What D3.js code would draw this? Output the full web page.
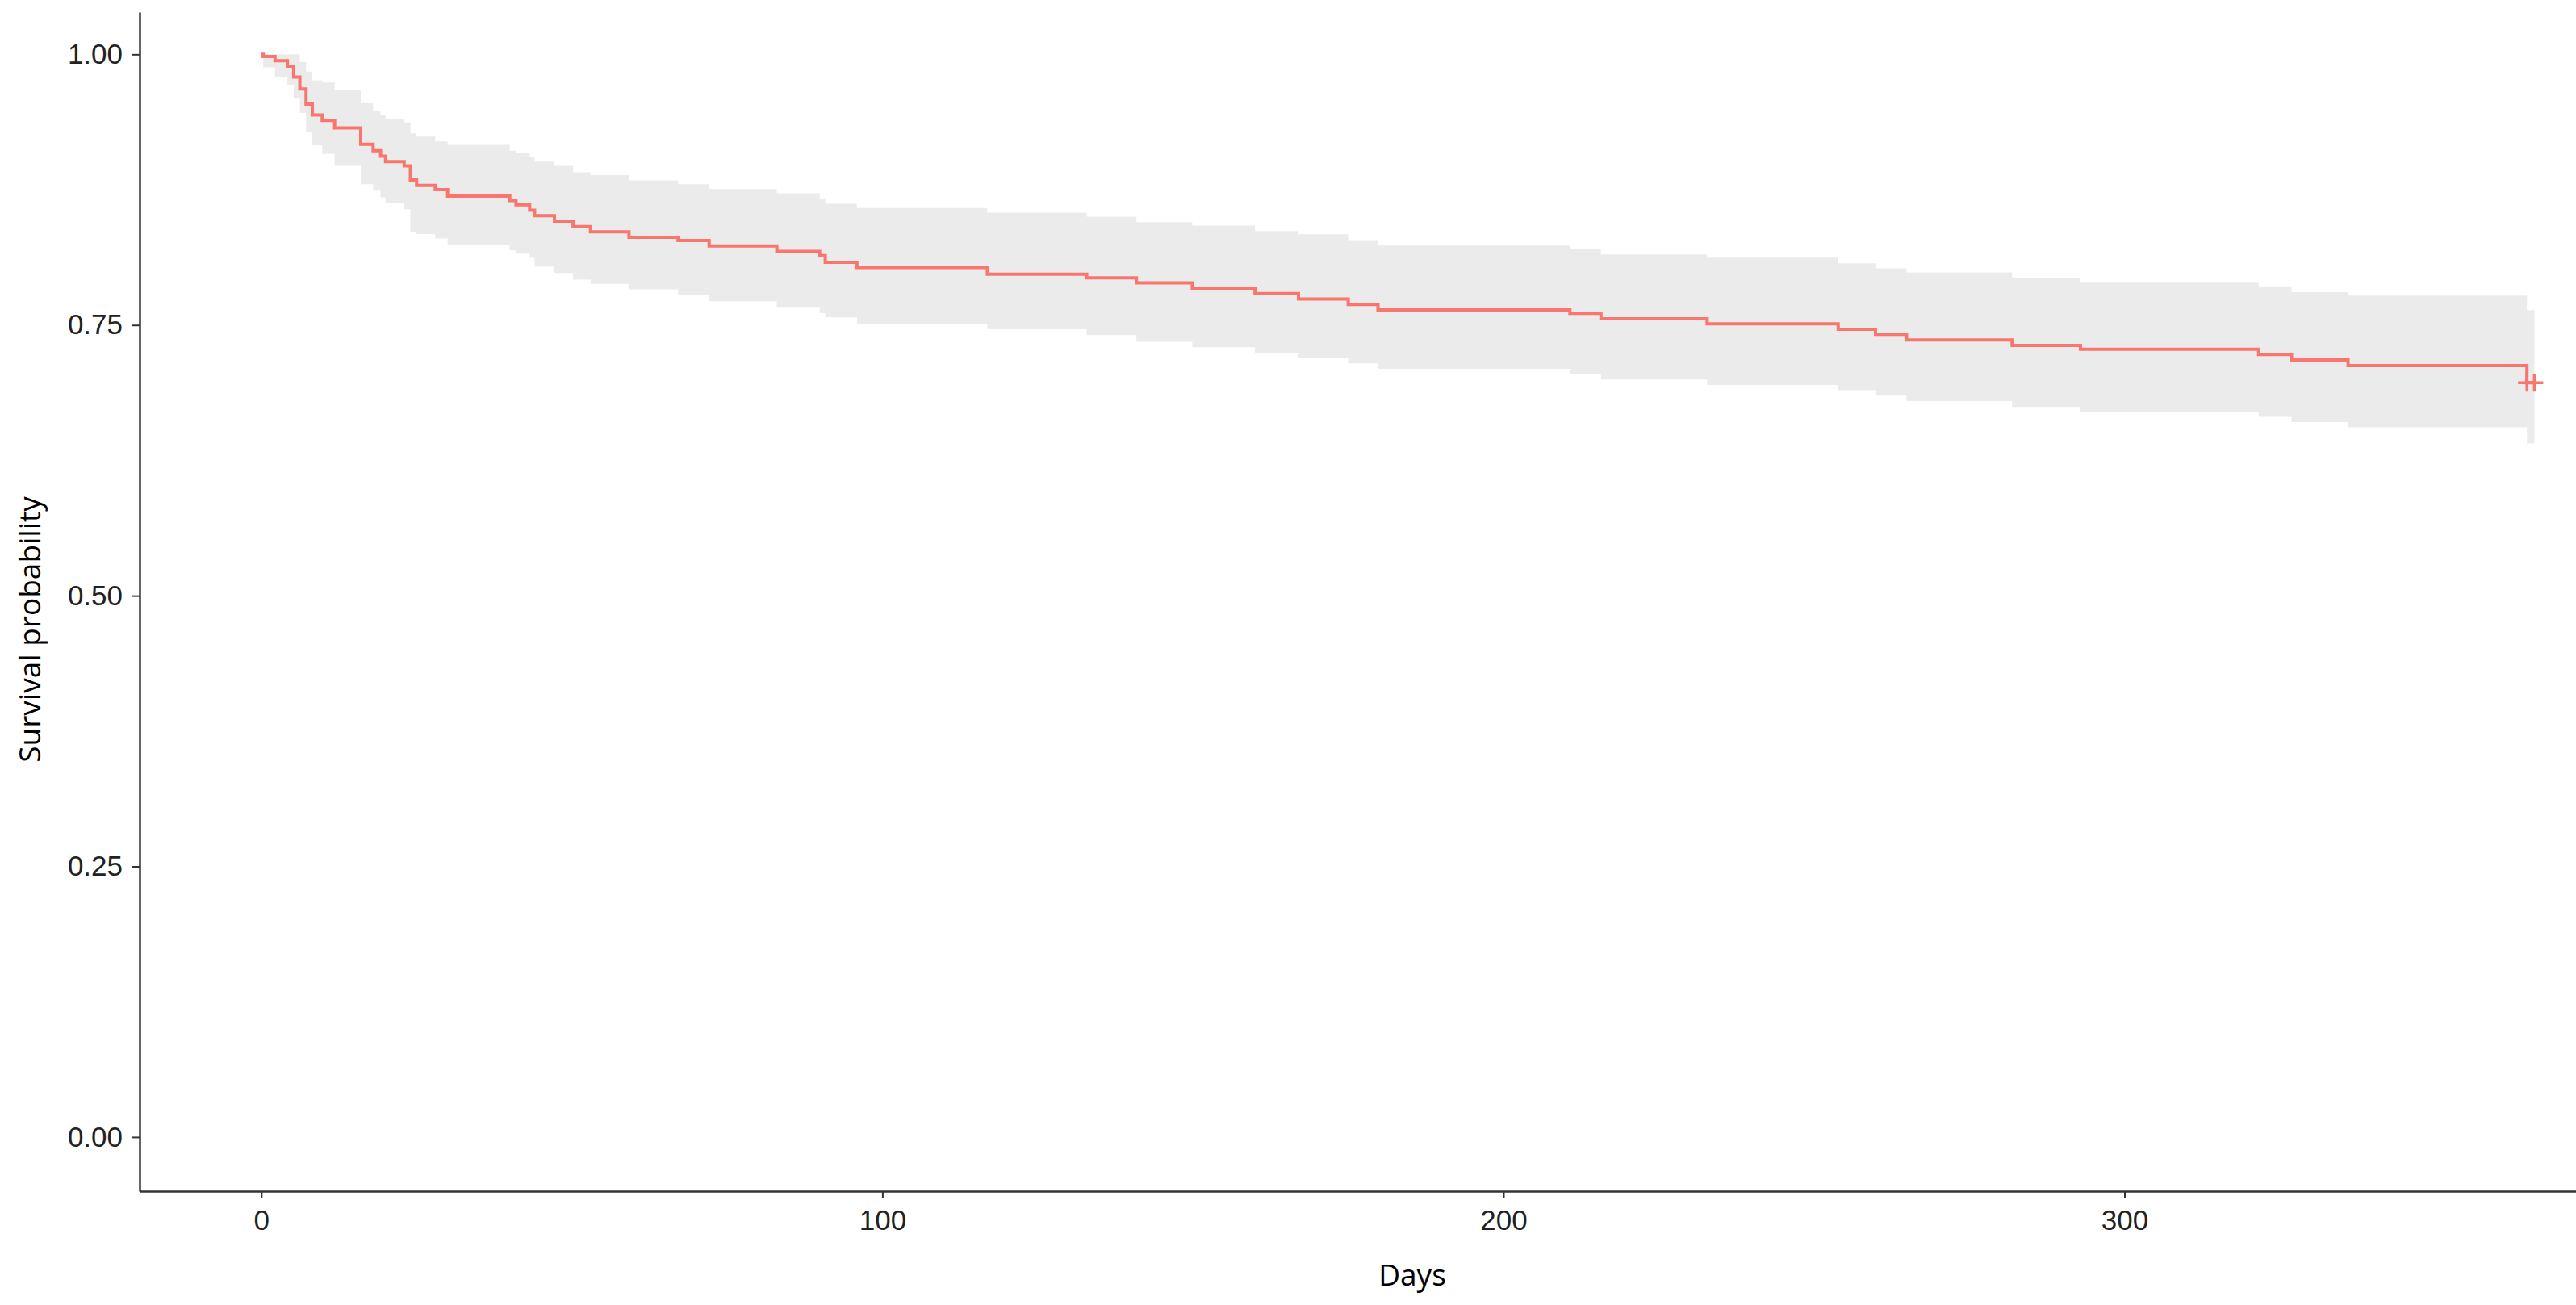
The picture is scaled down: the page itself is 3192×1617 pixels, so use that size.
<!DOCTYPE html>
<html>
<head>
<meta charset="utf-8">
<script src="https://cdn.jsdelivr.net/npm/d3@7"></script>
<style>
  html, body { margin: 0; padding: 0; background: #ffffff; }
  svg { display: block; }
</style>
</head>
<body>
<svg id="chart" width="3192" height="1617"></svg>
<script>
// ---- Data (Kaplan-Meier step points) ----
const times = [0, 0.3, 2.2, 4.2, 5.2, 6.2, 7.2, 8.2, 9.8, 11.8,
  16.0, 18.0, 19.2, 20.0, 23.0, 24.0, 25.0, 28.0, 30.0, 40.0,
  41.0, 43.2, 44.0, 47.2, 50.2, 53.0, 59.2, 67.1, 72.1, 83.0,
  89.9, 90.8, 95.9, 116.9, 132.9, 140.9, 149.9, 160.0, 167.0, 175.0,
  179.8, 210.7, 215.7, 232.8, 253.9, 259.9, 264.9, 281.9, 292.9, 321.6,
  326.9, 336.0, 364.8];
const survival = [1.000, 0.998, 0.994, 0.989, 0.979, 0.968, 0.954, 0.944, 0.939, 0.932,
  0.917, 0.911, 0.906, 0.901, 0.897, 0.884, 0.879, 0.875, 0.869, 0.865,
  0.861, 0.856, 0.851, 0.846, 0.841, 0.836, 0.831, 0.828, 0.823, 0.818,
  0.814, 0.808, 0.803, 0.797, 0.7936, 0.789, 0.784, 0.779, 0.774, 0.769,
  0.764, 0.7607, 0.7558, 0.7511, 0.7461, 0.7414, 0.7362, 0.7312, 0.7277, 0.7227,
  0.7178, 0.7126, 0.6967];
const upper = [1, 1, 1, 1, 1, 0.993, 0.984, 0.976, 0.974, 0.967,
  0.955, 0.948, 0.944, 0.940, 0.937, 0.927, 0.924, 0.9195, 0.9163, 0.911,
  0.909, 0.905, 0.901, 0.897, 0.891, 0.8885, 0.8835, 0.880, 0.8756, 0.8716,
  0.867, 0.862, 0.858, 0.8537, 0.850, 0.845, 0.8418, 0.8368, 0.8338, 0.8284,
  0.8234, 0.8202, 0.8152, 0.8122, 0.8070, 0.8023, 0.7986, 0.7936, 0.7891, 0.7858,
  0.7804, 0.7772, 0.7638];
const lower = [1, 0.988, 0.979, 0.972, 0.959, 0.946, 0.928, 0.916, 0.908, 0.897,
  0.880, 0.874, 0.868, 0.863, 0.857, 0.836, 0.834, 0.830, 0.824, 0.819,
  0.816, 0.812, 0.804, 0.798, 0.792, 0.788, 0.783, 0.778, 0.772, 0.766,
  0.761, 0.757, 0.751, 0.746, 0.7407, 0.7345, 0.7295, 0.7245, 0.7196, 0.7146,
  0.7096, 0.7047, 0.6997, 0.6947, 0.6898, 0.6848, 0.6798, 0.6744, 0.6699, 0.6652,
  0.6603, 0.6555, 0.6406];
const lastTime = 366;
const censorTimes = [364.8, 366];
const xTicks = [0, 100, 200, 300];
const yTicks = [0, 0.25, 0.5, 0.75, 1];
const xTitle = "Days";
const yTitle = "Survival probability";

// ---- Layout ----
const svg = d3.select("#chart");
const x = d3.scaleLinear().domain([-19.6, 372.7]).range([173, 3192]);
const y = d3.scaleLinear().domain([-0.05, 1.039]).range([1476, 15]);

const rows = times.map((t, i) => ({ t, s: survival[i], u: upper[i], l: lower[i] }));
const last = rows[rows.length - 1];
const rowsExt = rows.concat([{ t: lastTime, s: last.s, u: last.u, l: last.l }]);

// Confidence ribbon
const area = d3.area()
  .curve(d3.curveStepAfter)
  .x(d => x(d.t))
  .y0(d => y(d.l))
  .y1(d => y(d.u));
svg.append("path")
  .datum(rowsExt)
  .attr("d", area)
  .attr("fill", "#ebebeb")
  .attr("stroke", "none");

// Survival step curve
const line = d3.line()
  .curve(d3.curveStepAfter)
  .x(d => x(d.t))
  .y(d => y(d.s));
svg.append("path")
  .datum(rowsExt)
  .attr("d", line)
  .attr("fill", "none")
  .attr("stroke", "#F8766D")
  .attr("stroke-width", 4);

// Censor marks
const cg = svg.append("g").attr("stroke", "#F8766D").attr("stroke-width", 3.5);
censorTimes.forEach(t => {
  const cx = x(t), cy = y(last.s);
  cg.append("line").attr("x1", cx - 11).attr("x2", cx + 11).attr("y1", cy).attr("y2", cy);
  cg.append("line").attr("x1", cx).attr("x2", cx).attr("y1", cy - 11).attr("y2", cy + 11);
});

// Axes
const axisColor = "#333333";
const yAxis = svg.append("g")
  .attr("transform", `translate(${x(-19.6)},0)`)
  .call(d3.axisLeft(y).tickValues(yTicks).tickFormat(d3.format(".2f"))
    .tickSize(10).tickSizeOuter(0).tickPadding(11));
const xAxis = svg.append("g")
  .attr("transform", `translate(0,${y(-0.05)})`)
  .call(d3.axisBottom(x).tickValues(xTicks).tickFormat(d3.format("d"))
    .tickSize(9).tickSizeOuter(0).tickPadding(14));

[yAxis, xAxis].forEach(g => {
  g.select(".domain").attr("stroke", axisColor).attr("stroke-width", 2.5);
  g.selectAll(".tick line").attr("stroke", axisColor).attr("stroke-width", 2);
  g.selectAll(".tick text")
    .attr("fill", "#222")
    .style("font-family", "'Liberation Sans', Arial, sans-serif")
    .style("font-size", "35px");
});

// Titles
svg.append("text")
  .attr("x", 1750).attr("y", 1593)
  .attr("text-anchor", "middle")
  .style("font-family", "'Open Sans', 'Noto Sans', sans-serif")
  .style("font-size", "37px")
  .attr("fill", "#000")
  .text(xTitle);
svg.append("text")
  .attr("transform", "translate(50,780) rotate(-90)")
  .attr("text-anchor", "middle")
  .style("font-family", "'Open Sans', 'Noto Sans', sans-serif")
  .style("font-size", "37px")
  .attr("fill", "#000")
  .text(yTitle);
</script>
</body>
</html>
